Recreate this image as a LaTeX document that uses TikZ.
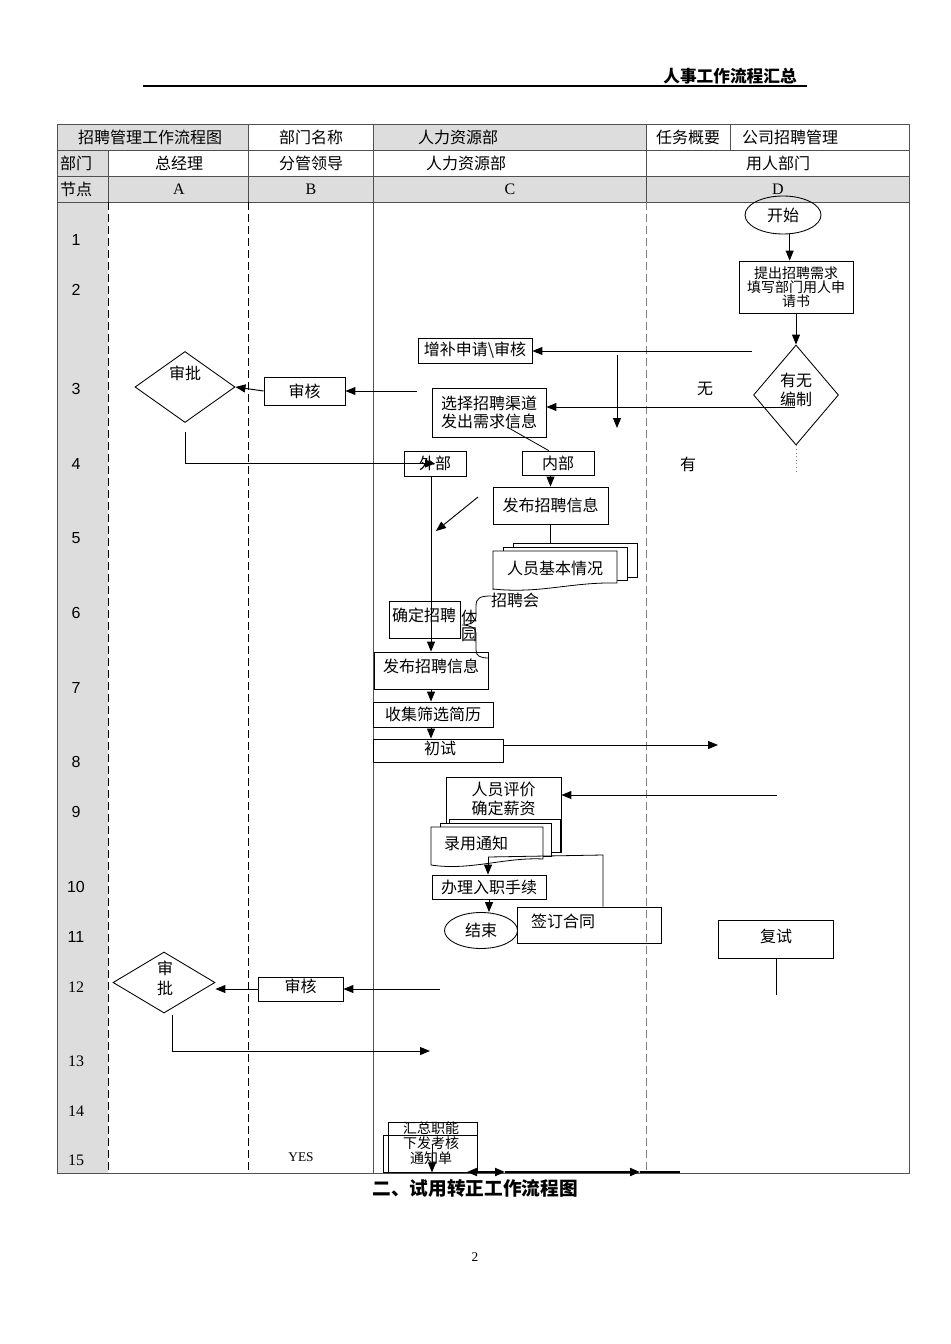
\documentclass[tikz,border=0pt]{standalone}
\usepackage{fontspec}
\setmainfont{Liberation Serif}
\newfontfamily\cjk{Noto Sans CJK SC}
\newfontfamily\arial{Liberation Sans}
\usetikzlibrary{arrows.meta,shapes.geometric}

\definecolor{cellgray}{RGB}{221,221,221}
\definecolor{rulegray}{RGB}{80,80,80}

\tikzset{
  sz/.style 2 args={minimum width=#1*0.75pt, minimum height=#2*0.75pt},
  txt/.style={font=\cjk\fontsize{12}{14}\selectfont, inner sep=0pt},
  smalltxt/.style={font=\cjk\fontsize{10.5}{10.5}\selectfont, inner sep=0pt, align=center},
  box/.style={draw, line width=0.65pt, inner sep=0pt, txt},
  flow/.style={line width=0.7pt, ->},
  lane/.style={line width=0.6pt, dash pattern=on 6pt off 3pt},
  rownum/.style={font=\arial\fontsize{12}{14}\selectfont, inner sep=0pt},
  rownumserif/.style={font=\fontsize{12}{14}\selectfont, inner sep=0pt},
}

\begin{document}
\begin{tikzpicture}[x=0.75pt, y=-0.75pt, >={Triangle[length=7.5pt,width=6pt]}]
  \useasboundingbox (0,0) rectangle (950,1344);
  \fill[white] (0,0) rectangle (950,1344);

  % page head
  \node[txt, font=\cjk\bfseries\fontsize{12.5}{14}\selectfont] (head) at (730,76) {人事工作流程汇总};
  \draw[line width=0.9pt] (143,86) coordinate (hl) -- (807,86) coordinate (hr);

  % table shading
  \fill[cellgray] (57,124) rectangle (248,150);
  \fill[cellgray] (373,124) rectangle (646,150);
  \fill[cellgray] (57,150) rectangle (108,176);
  \fill[cellgray] (57,176) rectangle (909,202);
  \fill[cellgray] (57,202) rectangle (108,1173);

  % table rules
  \draw[rulegray, line width=0.7pt] (57,124) rectangle (909,1173);
  \foreach \y in {150,176,202}
    \draw[rulegray, line width=0.7pt] (57,\y) -- (909,\y);
  \foreach \x in {248,373,646,730}
    \draw[rulegray, line width=0.7pt] (\x,124) -- (\x,150);
  \foreach \x in {108,248,373,646}
    \draw[rulegray, line width=0.7pt] (\x,150) -- (\x,202);
  \draw[lane] (108,202) -- (108,1173);
  \draw[lane] (248,202) -- (248,1173);
  \draw[rulegray, line width=0.5pt] (373,202) -- (373,1173);
  \draw[lane, gray] (646,202) -- (646,1173);

  % head cells
  \foreach \x/\t [count=\i] in {150/招聘管理工作流程图, 311/部门名称, 458/人力资源部, 688/任务概要, 790/公司招聘管理}
    \node[txt] (hd\i) at (\x,137) {\t};
  \foreach \x/\t [count=\i] in {76/部门, 179/总经理, 311/分管领导, 466/人力资源部, 778/用人部门}
    \node[txt] (dept\i) at (\x,163) {\t};
  \node[txt] (nodehd) at (76,189) {节点};
  \foreach \x/\t in {179/A, 311/B, 510/C, 778/D}
    \node[rownumserif] (lane\t) at (\x,189) {\t};

  % node numbers down the left
  \foreach \n/\y in {1/240, 2/290, 3/389, 4/464, 5/538, 6/613, 7/688, 8/762, 9/812, 10/887, 11/937}
    \node[rownum] (n\n) at (76,\y) {\n};
  \foreach \n/\y in {12/987, 13/1061, 14/1111, 15/1160}
    \node[rownumserif] (n\n) at (76,\y) {\n};

  % lane D: start, request, headcount check
  \node[draw, ellipse, line width=0.65pt, sz={76}{38}, txt] (start) at (783,215) {开始};
  \node[box, sz={114}{52}, smalltxt] (need) at (796,287) {提出招聘需求\\填写部门用人申\\请书};
  \draw[flow] ([xshift=5pt]start.south) -- ([xshift=5pt]start.south |- need.north);
  \node[draw, diamond, line width=0.65pt, sz={85}{100}] (bian) at (796,395) {};
  \node[txt, align=center] (biant) at (796,390) {有无\\编制};
  \draw[flow] (need.south) -- (bian.north);
  \draw[dotted, line width=0.7pt, gray] (bian.south) -- ++(0,27) coordinate (bianend);
  \node[txt] (wu) at (705,389) {无};
  \node[txt] (you) at (688,464) {有};

  % lane C: extra request and channel choice
  \node[box, sz={114}{25}] (zengbu) at (475,350.5) {增补申请\textbackslash 审核};
  \coordinate (z0) at (752,351);
  \draw[flow] (z0) -- (z0 -| zengbu.east);
  \coordinate (d1) at (617,355);
  \coordinate (d2) at (617,428);
  \draw[flow] (d1) -- (d2);
  \node[box, sz={114}{49}, align=center] (qudao) at (489,412.5) {选择招聘渠道\\发出需求信息};
  \coordinate (z1) at (795,407);
  \draw[flow] (z1) -- (z1 -| qudao.east);

  % lanes A/B: first approval
  \node[box, sz={81}{28}] (shenhe1) at (304.5,391) {审核};
  \coordinate (s0) at (417,391);
  \draw[flow] (s0) -- (shenhe1.east);
  \node[draw, diamond, line width=0.65pt, sz={100}{71}] (shenpi1) at (185,387) {};
  \node[txt] (shenpi1t) at (185,373) {审批};
  \draw[flow] (shenhe1.west) -- (shenpi1.east);

  % external / internal
  \node[box, sz={62}{25}] (waibu) at (435,463.5) {外部};
  \node[box, sz={72}{24}] (neibu) at (558,463) {内部};
  \coordinate (p1) at (185,432);
  \draw[flow] (p1) |- (waibu.center);
  \coordinate (q1) at (507,427);
  \draw[line width=0.6pt] (q1) -- ([xshift=-7pt]neibu.north);
  \node[box, sz={115}{37}] (fabu1) at (550.5,505.5) {发布招聘信息};
  \draw[flow] (fabu1.north |- neibu.south) -- (fabu1.north);

  % the stacked record of applicants
  \draw[line width=0.6pt, fill=white] (513,543) rectangle (637,577);
  \draw[line width=0.6pt, fill=white] (503,547) rectangle (627,580);
  \draw[line width=0.6pt, fill=white] (493,590) -- (493,551) -- (617,551) -- (617,583)
    .. controls (570,582) and (540,594) .. (493,589);
  \node[txt] (renyuan) at (555,568) {人员基本情况};
  \draw[line width=0.6pt] (fabu1.south) -- (fabu1.south |- 0,543);

  \coordinate (g1) at (478,497);
  \coordinate (g2) at (436,531);
  \draw[flow] (g1) -- (g2);

  % media choice with the brace
  \node[draw, line width=0.65pt, sz={71}{37}] (queding) at (424.5,619.5) {};
  \node[txt] (quedingt) at (424,615) {确定招聘};
  \node[txt] (ti) at (469,617) {体};
  \node[txt] (yuan) at (469,635) {园};
  \node[txt] (zhaopinhui) at (515,600) {招聘会};
  \draw[line width=0.6pt] (491,596) .. controls (480,596) and (476,598) .. (476,606) -- (476,617)
    .. controls (476,622) and (470,625) .. (462,625)
    .. controls (470,625) and (476,628) .. (476,633) -- (476,650)
    .. controls (476,656) and (480,658) .. (489,658);

  % screening
  \node[box, sz={114}{37}] (fabu2) at (431,670.5) {};
  \node[txt] (fabu2t) at (431,666) {发布招聘信息};
  \draw[flow] (waibu.south -| fabu2.north) -- (fabu2.north);
  \node[box, sz={120}{25}] (shouji) at (433,714.5) {收集筛选简历};
  \draw[flow] (fabu2.south) -- (fabu2.south |- shouji.north);
  \node[box, sz={130}{23}] (chushi) at (438,750.5) {};
  \node[txt] (chushit) at (440,748) {初试};
  \draw[flow] (fabu2.south |- shouji.south) -- (fabu2.south |- chushi.north);
  \coordinate (c1) at (718,745);
  \draw[flow] (chushi.east |- c1) -- (c1);

  % evaluation and offer
  \node[draw, line width=0.65pt, fill=white, sz={115}{75}] (pingjia) at (503.5,814.5) {};
  \node[txt, align=center] (pingjiat) at (503.5,799) {人员评价\\确定薪资};
  \coordinate (r1) at (777,795);
  \draw[flow] (r1) -- (r1 -| pingjia.east);
  \draw[line width=0.6pt, fill=white] (449,819) rectangle (560,852);
  \draw[line width=0.6pt, fill=white] (440,823) rectangle (551,856);
  \draw[line width=0.6pt, fill=white] (431,865) -- (431,827) -- (543,827) -- (543,859)
    .. controls (505,857) and (470,871) .. (431,865);
  \node[txt] (luyong) at (476,843) {录用通知};

  \node[box, sz={114}{24}] (banli) at (489,887) {办理入职手续};
  \coordinate (l1) at (488,857);
  \coordinate (l2) at (603,855);
  \draw[flow] (l1) -- (l1 |- banli.north);
  \node[draw, line width=0.65pt, sz={144}{36}] (qianding) at (589,925) {};
  \node[txt] (qiandingt) at (563,921) {签订合同};
  \draw[line width=0.6pt] (l1) -- (l2) -- (l2 |- qianding.north);
  \node[draw, ellipse, line width=0.65pt, sz={73}{36}, txt] (jieshu) at (481,930.5) {结束};
  \draw[flow] (banli.south) -- (jieshu.north -| banli.south);

  % second interview
  \node[draw, line width=0.65pt, sz={115}{38}] (fushi) at (775.5,939) {};
  \node[txt] (fushit) at (776,936) {复试};
  \coordinate (f1) at (776,995);
  \draw[line width=0.7pt] (fushi.south -| f1) -- (f1);

  % second approval
  \node[draw, diamond, line width=0.65pt, sz={102}{61}] (shenpi2) at (164,982.5) {};
  \node[txt, align=center, font=\cjk\fontsize{12}{15}\selectfont] (shenpi2t) at (165,978) {审\\批};
  \node[box, sz={85}{24}] (shenhe2) at (300.5,989) {};
  \node[txt] (shenhe2t) at (300.5,986) {审核};
  \coordinate (h1) at (440,989);
  \draw[flow] (h1) -- (shenhe2.east);
  \draw[flow] (shenhe2.west) -- (shenhe2.west -| shenpi2.east);
  \coordinate (k1) at (172,1015);
  \coordinate (k2) at (430,1051);
  \draw[flow] (k1) |- (k2);

  % node 15
  \draw[line width=0.6pt, fill=white] (383,1135) rectangle (472,1172);
  \draw[line width=0.65pt, fill=white] (388,1122) rectangle (477,1135);
  \node[draw, line width=0.65pt, fill=white, sz={89}{37}] (huizong) at (432.5,1153.5) {};
  \node[smalltxt, font=\cjk\fontsize{10.5}{11.2}\selectfont] (huizongt) at (431,1143) {汇总职能\\下发考核\\通知单};
  \coordinate (u1) at (432,1145);
  \draw[flow] (u1) -- (u1 |- huizong.south);
  \node[font=\fontsize{10}{12}\selectfont, inner sep=0pt] (yes) at (301,1157) {YES};

  \coordinate (b0) at (467,1172);
  \coordinate (b1) at (505,1172);
  \coordinate (b2) at (640,1172);
  \coordinate (b3) at (680,1172);
  \draw[line width=1.4pt, <->] (b0) -- (b1);
  \draw[line width=1.4pt, ->] (b1) -- (b2);
  \draw[line width=1.4pt] (b2) -- (b3);

  % title of the next chart and the page number
  \node[txt, font=\cjk\bfseries\fontsize{14}{16}\selectfont] (next) at (475,1188) {二、试用转正工作流程图};
  \node[font=\fontsize{10}{12}\selectfont, inner sep=0pt] (page) at (475,1257) {2};

\end{tikzpicture}
\end{document}
